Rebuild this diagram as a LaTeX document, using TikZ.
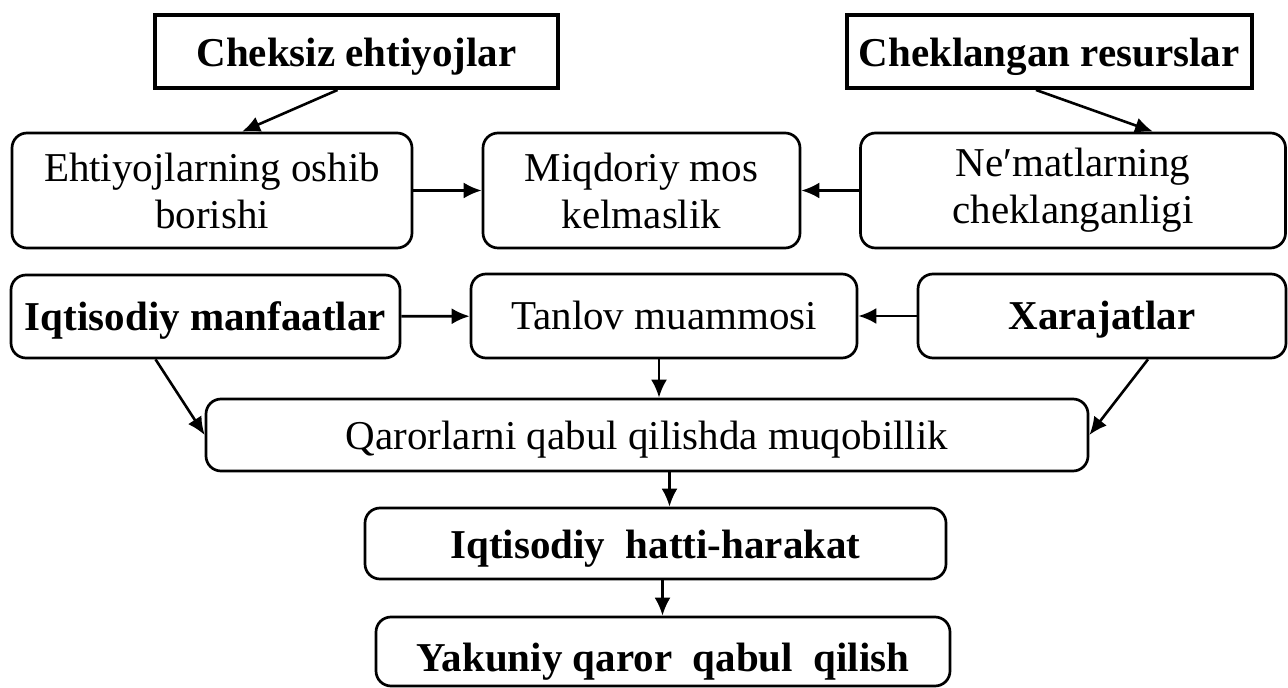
\documentclass[tikz,border=0pt]{standalone}
\usepackage{fontspec}
\setmainfont{Liberation Serif}
\usetikzlibrary{arrows.meta}
\def\lw{1.35pt}
\def\fs{\fontsize{20.5}{23.5}\selectfont}

\begin{document}
\begin{tikzpicture}[x=0.5pt, y=-0.5pt,
	box/.style={draw, line width=\lw, rounded corners=7.5pt, inner sep=0pt, align=center, font=\fs},
	topbox/.style={draw, line width=2pt, inner sep=0pt, align=center, font=\fs\bfseries},
	oneline/.style={text height=#1, text depth=0pt},
	arr/.style={line width=1.3pt, -{Latex[length=9pt,width=8pt]}}]
\useasboundingbox (0,0) rectangle (1288,688);

% row 1
\node[topbox, oneline=15pt, minimum width=201.5pt, minimum height=36.5pt] (chek) at (356.5,51.5) {Cheksiz ehtiyojlar};
\node[topbox, oneline=15pt, minimum width=202.5pt, minimum height=36.5pt] (resurs) at (1049,51.5) {Cheklangan resurslar};

% row 2
\node[box, minimum width=200pt, minimum height=57.5pt] (oshish) at (212,190.5) {Ehtiyojlarning oshib\\borishi};
\node[box, minimum width=158.5pt, minimum height=57.5pt] (miqdor) at (641.5,190.5) {Miqdoriy mos\\kelmaslik};
\node[box, minimum width=212.5pt, minimum height=57.5pt] (nemat) at (1073,190.5) {Ne′matlarning\\cheklanganligi};

% row 3
\node[box, oneline=14pt, minimum width=194.5pt, minimum height=41.5pt, font=\fs\bfseries] (manfaat) at (205.5,316.5) {Iqtisodiy manfaatlar};
\node[box, oneline=14pt, minimum width=193pt, minimum height=42pt] (tanlov) at (664,316) {Tanlov muammosi};
\node[box, oneline=14pt, minimum width=184pt, minimum height=42pt, font=\fs\bfseries] (xarajat) at (1102,316) {Xarajatlar};

% lower rows
\node[box, oneline=15pt, minimum width=441pt, minimum height=36pt] (qaror) at (647,435) {Qarorlarni qabul qilishda muqobillik};
\node[box, oneline=15.5pt, minimum width=290.5pt, minimum height=35.5pt, font=\fs\bfseries] (hatti) at (655.5,543.5) {Iqtisodiy\ \ hatti-harakat};
\node[box, oneline=20pt, minimum width=287pt, minimum height=34.5pt, font=\fs\bfseries] (yakun) at (663,651.5) {Yakuniy qaror\ \ qabul\ \ qilish};

% arrows
\draw[arr] ([xshift=-9.5pt]chek.south) -- ([xshift=15pt]oshish.north);
\draw[arr] ([xshift=-6.5pt]resurs.south) -- ([xshift=40pt]nemat.north);
\draw[arr] (oshish) -- (miqdor);
\draw[arr] (nemat) -- (miqdor);
\draw[arr] (manfaat) -- (tanlov);
\draw[arr] (xarajat) -- (tanlov);
\draw[arr] ([xshift=-25pt]manfaat.south) -- (qaror.west);
\draw[arr] ([xshift=23pt]xarajat.south) -- (qaror.east);
\draw[arr] ([xshift=-2.5pt]tanlov.south) -- ([xshift=-2.5pt]tanlov.south |- qaror.north);
\draw[arr] ([xshift=7pt]hatti.north |- qaror.south) -- ([xshift=7pt]hatti.north);
\draw[arr] ([xshift=3.5pt]hatti.south) -- ([xshift=3.5pt]hatti.south |- yakun.north);
\end{tikzpicture}
\end{document}
